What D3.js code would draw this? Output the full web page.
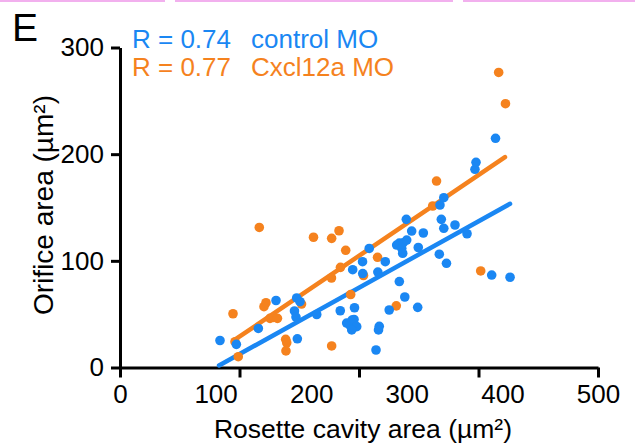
<!DOCTYPE html>
<html>
<head>
<meta charset="utf-8">
<script src="https://cdn.jsdelivr.net/npm/d3@7"></script>
<style>
  body { margin: 0; background: #fff; }
  svg { display: block; font-family: "Liberation Sans", Arial, sans-serif; }
  .axis path, .axis line { stroke: #000; stroke-width: 3; }
  .axis text { font-size: 26px; fill: #000; font-family: "Liberation Sans", Arial, sans-serif; }
</style>
</head>
<body>
<div id="chart"></div>
<script>
// --- data (x = rosette cavity area, y = orifice area, µm²) ---

const controlX = [104.6, 121.7, 144.7, 163.2, 184.8, 188.3, 182.5, 184.1, 185.5, 205.8,
                  230.4, 243.4, 245.3, 237.1, 240.6, 242.7, 244.8, 247.6, 242.4, 253.7,
                  253.9, 260.7, 269.7, 277.5, 271.2, 270.4, 267.8, 281.6, 292.2, 289.4,
                  292.2, 296.3, 299.9, 294.7, 295.7, 297.9, 299.5, 305.1, 311.4, 312.0,
                  317.3, 334.7, 338.7, 336.1, 338.7, 334.0, 341.5, 350.4, 363.0, 371.3,
                  372.4, 388.8, 392.8, 408.0];
const controlY = [25.3, 21.7, 36.6, 62.8, 65.2, 61.7, 53.0, 47.3, 26.9, 49.7,
                  53.2, 91.7, 56.0, 41.7, 39.4, 44.5, 45.0, 38.3, 35.2, 99.2,
                  88.1, 111.6, 89.5, 99.2, 38.6, 35.2, 16.4, 53.9, 80.6, 114.8,
                  116.7, 117.0, 119.5, 111.7, 107.1, 66.1, 138.9, 127.9, 56.4, 112.5,
                  126.1, 152.3, 159.2, 138.9, 130.5, 106.2, 97.7, 133.6, 125.4, 185.8,
                  192.4, 86.7, 214.9, 84.6];

const cxclX = [118.2, 120.3, 123.7, 145.7, 150.6, 152.7, 156.9, 160.6, 164.7, 173.3,
               174.4, 173.6, 189.9, 202.4, 221.4, 229.1, 236.1, 221.2, 230.6, 221.4,
               241.3, 254.7, 269.4, 289.0, 327.1, 331.1, 377.3, 396.1, 403.2];
const cxclY = [50.4, 24.2, 10.1, 131.3, 57.0, 60.7, 46.1, 46.9, 46.1, 26.4,
               23.2, 15.5, 59.5, 122.1, 121.1, 128.2, 109.9, 83.9, 93.9, 20.2,
               68.4, 86.2, 103.3, 57.8, 151.4, 174.8, 90.5, 276.6, 247.3];

// regression lines as drawn: [x start, x end], slope, intercept
const controlFitX = [103.6, 408];
const controlFit = { slope: 0.498, intercept: -49.7 };
const cxclFitX = [120.2, 402.7];
const cxclFit = { slope: 0.606, intercept: -46.8 };

const legendLabels = ["control MO", "Cxcl12a MO"];
const legendR = ["R = 0.74", "R = 0.77"];

const xTickMarks = [0, 125, 250, 375, 500];
const xTickLabels = [0, 100, 200, 300, 400, 500];
const yTicks = [0, 100, 200, 300];

const blue = "#1a87f3";
const orange = "#f5821e";

// --- drawing ---

const width = 635, height = 447;

const svg = d3.select("#chart").append("svg")
    .attr("width", width)
    .attr("height", height);

// pink panel separators along the top edge
const seps = [[0, 165], [175, 453], [463, 635]];
svg.selectAll(".sep")
    .data(seps)
    .enter().append("line")
    .attr("class", "sep")
    .attr("x1", d => d[0]).attr("x2", d => d[1])
    .attr("y1", 1).attr("y2", 1)
    .attr("stroke", "#f2b0ee")
    .attr("stroke-width", 2);

const x = d3.scaleLinear().domain([0, 500]).range([120, 598]);
const y = d3.scaleLinear().domain([0, 300]).range([367.5, 47.5]);

// x axis: tick marks and labels don't share spacing in the original
svg.append("g")
    .attr("class", "axis")
    .attr("transform", `translate(0,${y(0)})`)
    .call(d3.axisBottom(x).tickValues(xTickMarks).tickFormat("").tickSize(10).tickSizeOuter(0));

const xl = svg.append("g")
    .attr("class", "axis")
    .attr("transform", `translate(0,${y(0)})`)
    .call(d3.axisBottom(x).tickValues(xTickLabels).tickSize(0).tickPadding(17));
xl.select(".domain").remove();
xl.selectAll("line").remove();

svg.append("g")
    .attr("class", "axis")
    .attr("transform", `translate(${x(0)},0)`)
    .call(d3.axisLeft(y).tickValues(yTicks).tickSize(9).tickSizeOuter(0).tickPadding(7));

// axis titles
svg.append("text")
    .attr("x", 363).attr("y", 438)
    .attr("text-anchor", "middle")
    .attr("font-size", 26.5)
    .text("Rosette cavity area (µm²)");

svg.append("text")
    .attr("transform", `translate(53,205) rotate(-90)`)
    .attr("text-anchor", "middle")
    .attr("font-size", 28)
    .text("Orifice area (µm²)");

// panel letter
svg.append("text")
    .attr("x", 12).attr("y", 41)
    .attr("font-size", 39)
    .text("E");

// fit lines
function fitLine(range, fit, color) {
    const pts = range.map(v => [v, fit.slope * v + fit.intercept]);
    svg.append("path")
        .datum(pts)
        .attr("fill", "none")
        .attr("stroke", color)
        .attr("stroke-width", 4.5)
        .attr("stroke-linecap", "round")
        .attr("d", d3.line().x(d => x(d[0])).y(d => y(d[1])));
}
fitLine(controlFitX, controlFit, blue);
fitLine(cxclFitX, cxclFit, orange);

// points: orange under blue
svg.selectAll(".cx")
    .data(d3.zip(cxclX, cxclY))
    .enter().append("circle")
    .attr("class", "cx")
    .attr("cx", d => x(d[0]))
    .attr("cy", d => y(d[1]))
    .attr("r", 4.8)
    .attr("fill", orange);

svg.selectAll(".ctl")
    .data(d3.zip(controlX, controlY))
    .enter().append("circle")
    .attr("class", "ctl")
    .attr("cx", d => x(d[0]))
    .attr("cy", d => y(d[1]))
    .attr("r", 4.8)
    .attr("fill", blue);

// legend
const colors = [blue, orange];
const leg = svg.selectAll(".leg")
    .data(legendLabels)
    .enter().append("g")
    .attr("class", "leg")
    .attr("transform", (d, i) => `translate(0,${48 + i * 28})`);
leg.append("text")
    .attr("x", 132)
    .attr("font-size", 26)
    .attr("fill", (d, i) => colors[i])
    .text((d, i) => legendR[i]);
leg.append("text")
    .attr("x", 251)
    .attr("font-size", 26)
    .attr("fill", (d, i) => colors[i])
    .text(d => d);
</script>
</body>
</html>
